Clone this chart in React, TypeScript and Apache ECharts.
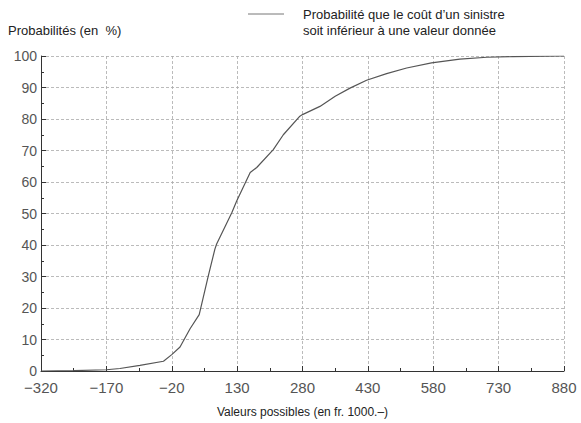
import React, { useEffect, useRef } from "react";
import * as echarts from "echarts";

const X_MIN = -320;
const X_MAX = 880;
const X_STEP = 150;

const xValues = [-320, -245, -170, -139, -93, -39, -20, -1, 22, 43, 64, 79, 83, 118, 129, 160, 175, 213, 236, 274, 280, 320, 355, 389, 427, 473, 519, 576, 641, 703, 763, 880];
const yValues = [0, 0.1, 0.4, 0.8, 1.8, 3.1, 5.2, 7.6, 13.4, 17.9, 30.3, 38.7, 40.3, 50.3, 54, 63, 64.6, 70.3, 75, 80.9, 81.4, 84, 87.2, 89.8, 92.3, 94.4, 96.2, 97.8, 99, 99.6, 99.8, 100];

const yTitle = "Probabilités (en  %)";
const xTitle = "Valeurs possibles (en fr. 1000.–)";
const legendLabel = "Probabilité que le coût d’un sinistre\nsoit inférieur à une valeur donnée";

const FONT = "'Liberation Sans', Arial, sans-serif";

export default function App() {
  const ref = useRef<HTMLDivElement>(null);
  useEffect(() => {
    if (!ref.current) return;
    const chart = echarts.init(ref.current, undefined, { renderer: "svg" });
    const data = xValues.map((x, i) => [x - X_MIN, yValues[i]]);
    chart.setOption({
      animation: false,
      backgroundColor: "#ffffff",
      textStyle: { fontFamily: FONT },
      grid: { left: 41, right: 17, top: 56, bottom: 51 },
      xAxis: {
        type: "value",
        min: 0,
        max: X_MAX - X_MIN,
        interval: X_STEP,
        name: xTitle,
        nameLocation: "middle",
        nameGap: 35,
        nameTextStyle: { fontFamily: FONT, fontSize: 12, color: "#222" },
        axisLine: { show: true, lineStyle: { color: "#333", width: 1 } },
        axisTick: { show: true, inside: true, length: 5, lineStyle: { color: "#333" } },
        minorTick: { show: true, splitNumber: 2, length: 3, lineStyle: { color: "#333" } },
        axisLabel: {
          fontFamily: FONT,
          fontSize: 15,
          color: "#555",
          margin: 9,
          formatter: (v: number) => {
            const r = v + X_MIN;
            return r < 0 ? "\u2212" + Math.abs(r) : String(r);
          },
        },
        splitLine: { show: true, lineStyle: { color: "#aaa", width: 0.8, type: [3, 2] } },
      },
      yAxis: {
        type: "value",
        min: 0,
        max: 100,
        interval: 10,
        axisLine: { show: true, lineStyle: { color: "#333", width: 1 } },
        axisTick: { show: true, inside: true, length: 5, lineStyle: { color: "#333" } },
        minorTick: { show: true, splitNumber: 2, length: 3, lineStyle: { color: "#333" } },
        axisLabel: { fontFamily: FONT, fontSize: 14, color: "#555", margin: 4 },
        splitLine: { show: true, lineStyle: { color: "#aaa", width: 0.8, type: [3, 2] } },
      },
      graphic: [
        {
          type: "text",
          left: 8,
          top: 24,
          style: { text: yTitle, fontFamily: FONT, fontSize: 13, fill: "#222" },
        },
        {
          type: "line",
          shape: { x1: 248, y1: 14, x2: 284, y2: 14 },
          style: { stroke: "#777", lineWidth: 1 },
        },
        {
          type: "text",
          left: 303,
          top: 6,
          style: { text: legendLabel, fontFamily: FONT, fontSize: 13, lineHeight: 16, fill: "#222" },
        },
      ],
      series: [
        {
          type: "line",
          data,
          showSymbol: false,
          symbol: "none",
          lineStyle: { color: "#555", width: 1.2 },
        },
      ],
    });
    return () => chart.dispose();
  }, []);
  return <div ref={ref} style={{ width: 581, height: 423, position: "absolute", left: 0, top: 0 }} />;
}
